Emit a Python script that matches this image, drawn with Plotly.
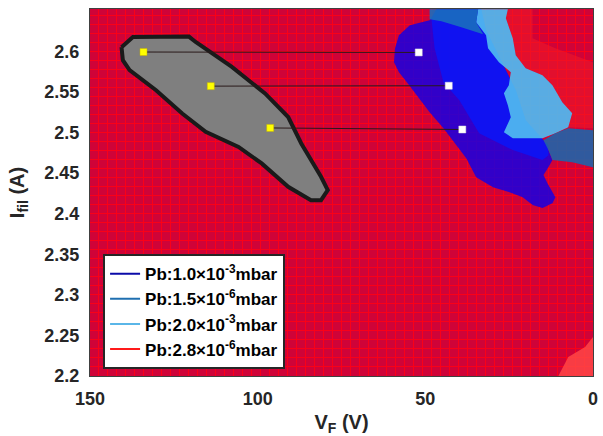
import plotly.graph_objects as go

# ---------------- data (V_F in volts, I_fil in amperes) ----------------
grey_v = [140.6, 137.2, 120.5, 118.5, 107.7, 97.8, 90.9, 87.0, 81.1, 79.1, 81.1, 84.1,
          90.9, 98.8, 105.7, 115.5, 122.5, 130.3, 138.2, 140.2]
grey_i = [2.605, 2.6176, 2.618, 2.6114, 2.5807, 2.548, 2.519, 2.4864, 2.4453, 2.4289, 2.4166, 2.4166,
          2.433, 2.4618, 2.4822, 2.5007, 2.5233, 2.552, 2.5766, 2.5889]

blue_outer_v = [48.72, 54.62, 57.87, 59.05, 59.35, 57.87, 55.51, 52.56, 48.72, 44.59, 40.75, 37.79,
                34.84, 29.82, 25.1, 20.96, 18.01, 15.06, 12.1, 11.22, 13.58, 14.76, 13.29, 12.1,
                13.29, 14.76, 20.08, 23.03, 27.46, 31.89, 33.36, 46.65]
blue_outer_i = [2.6382, 2.632, 2.6197, 2.6037, 2.5865, 2.5742, 2.5619, 2.5459, 2.5249, 2.5052, 2.4843, 2.4683,
                2.4449, 2.4326, 2.4265, 2.4203, 2.4105, 2.4068, 2.4129, 2.4203, 2.4375, 2.4474, 2.4572, 2.4659,
                2.4782, 2.4905, 2.5151, 2.552, 2.5889, 2.6259, 2.6517, 2.6517]

blue_inner_v = [48.13, 47.24, 44.59, 39.86, 33.95, 23.92, 15.06, 13.29, 13.29, 14.76, 20.08, 23.03,
                27.46, 31.89, 33.36, 46.65]
blue_inner_i = [2.6382, 2.6037, 2.5619, 2.5397, 2.4991, 2.4782, 2.4659, 2.472, 2.4843, 2.4905, 2.5151, 2.552,
                2.5889, 2.6259, 2.6517, 2.6517]

light_v = [34.25, 34.84, 31.89, 31.3, 28.05, 24.51, 25.1, 26.57, 25.39, 24.51, 26.57, 23.92, 15.06, 11.22,
           7.38, 6.2, 9.15, 12.1, 15.06, 20.08, 23.03, 23.92, 25.98, 25.39]
light_i = [2.6517, 2.6357, 2.6197, 2.6037, 2.5865, 2.5742, 2.5582, 2.5483, 2.5335, 2.5188, 2.5003, 2.4929,
           2.4929, 2.4991, 2.5065, 2.5237, 2.5372, 2.5582, 2.5705, 2.5791, 2.5951, 2.616, 2.6406, 2.6517]

steel_top_v = [48.72, 34.25, 34.84, 32.77, 39.27, 45.18, 48.72]
steel_top_i = [2.6517, 2.6517, 2.6357, 2.6209, 2.6295, 2.6369, 2.6394]

steel_right_v = [14.76, 11.22, 7.38, 0.0, 0.0, 6.2, 12.1, 13.29]
steel_right_i = [2.4905, 2.4991, 2.5052, 2.5028, 2.4572, 2.4634, 2.4659, 2.4782]

lightred_v = [25.39, 18.01, 18.01, 11.22, 0.0, 0.0, 7.38, 6.2, 9.15, 12.1, 15.06, 20.08, 23.03, 23.92, 25.98]
lightred_i = [2.6517, 2.6517, 2.616, 2.6037, 2.5865, 2.5052, 2.5065, 2.5237, 2.5372, 2.5582, 2.5705, 2.5791,
              2.5951, 2.616, 2.6406]

corner_v = [10.33, 7.38, 2.36, 0.0, 0.0]
corner_i = [2.2, 2.2234, 2.2357, 2.248, 2.2]

yellow_v = [134.05, 113.98, 96.26]
yellow_i = [2.599, 2.557, 2.5055]
white_v = [51.97, 43.02, 38.97]
white_i = [2.5985, 2.5575, 2.5036]

legend_names = ["Pb:1.0\u00d710<sup>-3</sup>mbar", "Pb:1.5\u00d710<sup>-6</sup>mbar",
                "Pb:2.0\u00d710<sup>-3</sup>mbar", "Pb:2.8\u00d710<sup>-6</sup>mbar"]
legend_colors = ["#0b0ba8", "#1f6fb0", "#5ab6e8", "#ff1a1a"]

x_ticks = [150, 100, 50, 0]
y_ticks = [2.2, 2.25, 2.3, 2.35, 2.4, 2.45, 2.5, 2.55, 2.6]

FONT = "Arial, Liberation Sans, sans-serif"

fig = go.Figure()


def poly(v, i, color, line=None):
    fig.add_trace(go.Scatter(
        x=v + v[:1], y=i + i[:1], mode="lines", fill="toself", fillcolor=color,
        line=line or dict(width=0, color=color), showlegend=False, hoverinfo="skip"))


poly(lightred_v, lightred_i, "rgba(238,24,40,0.6)")
poly(corner_v, corner_i, "rgba(255,70,70,0.85)")
poly(blue_outer_v, blue_outer_i, "rgba(25,0,225,0.86)")
poly(blue_inner_v, blue_inner_i, "rgba(8,22,250,0.82)")
poly(light_v, light_i, "rgba(80,185,240,0.93)")
poly(steel_top_v, steel_top_i, "rgba(25,110,190,0.9)")
poly(steel_right_v, steel_right_i, "rgba(30,100,170,0.9)")
poly(grey_v, grey_i, "#7f7f7f", line=dict(color="#1a1a1a", width=4))

# connecting lines
for yv, yi, wv, wi in zip(yellow_v, yellow_i, white_v, white_i):
    fig.add_trace(go.Scatter(x=[yv, wv], y=[yi, wi], mode="lines",
                             line=dict(color="#2a1a1a", width=1),
                             showlegend=False, hoverinfo="skip"))

fig.add_trace(go.Scatter(x=yellow_v, y=yellow_i, mode="markers",
                         marker=dict(symbol="square", size=7, color="#ffff00",
                                     line=dict(color="#c8b400", width=0.5)),
                         showlegend=False))
fig.add_trace(go.Scatter(x=white_v, y=white_i, mode="markers",
                         marker=dict(symbol="square", size=7, color="#ffffff",
                                     line=dict(color="#dddddd", width=0.5)),
                         showlegend=False))

for name, col in zip(legend_names, legend_colors):
    fig.add_trace(go.Scatter(x=[None], y=[None], mode="lines", name=name,
                             line=dict(color=col, width=2)))

fig.update_layout(
    width=603, height=436,
    margin=dict(l=90, r=5, t=9, b=60),
    paper_bgcolor="white",
    plot_bgcolor="#cf0338",
    font=dict(family=FONT, size=18, color="#262626", weight="bold"),
    showlegend=True,
    legend=dict(x=0.026, y=0.332, xanchor="left", yanchor="top",
                bgcolor="white", bordercolor="#262626", borderwidth=2,
                font=dict(family=FONT, size=17, color="#000000", weight="bold"),
                tracegroupgap=0, itemwidth=30),
)

fig.update_xaxes(
    range=[150, 0], tickmode="array", tickvals=x_ticks, ticktext=[str(t) for t in x_ticks],
    showgrid=False, zeroline=False, showline=True, linecolor="#404040", linewidth=1, mirror=True,
    ticks="", ticklabelstandoff=6, ticklabeloverflow="allow",
    minor=dict(showgrid=True, tickmode="linear", tick0=0, dtick=150 / 56,
               gridcolor="#fa0018", gridwidth=1),
    title=dict(text="V<sub>F</sub> (V)", font=dict(size=20, weight="bold"), standoff=8),
)
fig.update_yaxes(
    range=[2.2, 2.652], tickmode="array", tickvals=y_ticks, ticktext=[f"{t:g}" for t in y_ticks],
    showgrid=False, zeroline=False, showline=True, linecolor="#404040", linewidth=1, mirror=True,
    ticks="", ticklabelstandoff=6, ticklabeloverflow="allow",
    minor=dict(showgrid=True, tickmode="linear", tick0=2.2, dtick=0.0111,
               gridcolor="#fa0018", gridwidth=1),
    title=dict(text="I<sub>fil</sub> (A)", font=dict(size=20, weight="bold"), standoff=14),
)

fig.write_html("out.html")
